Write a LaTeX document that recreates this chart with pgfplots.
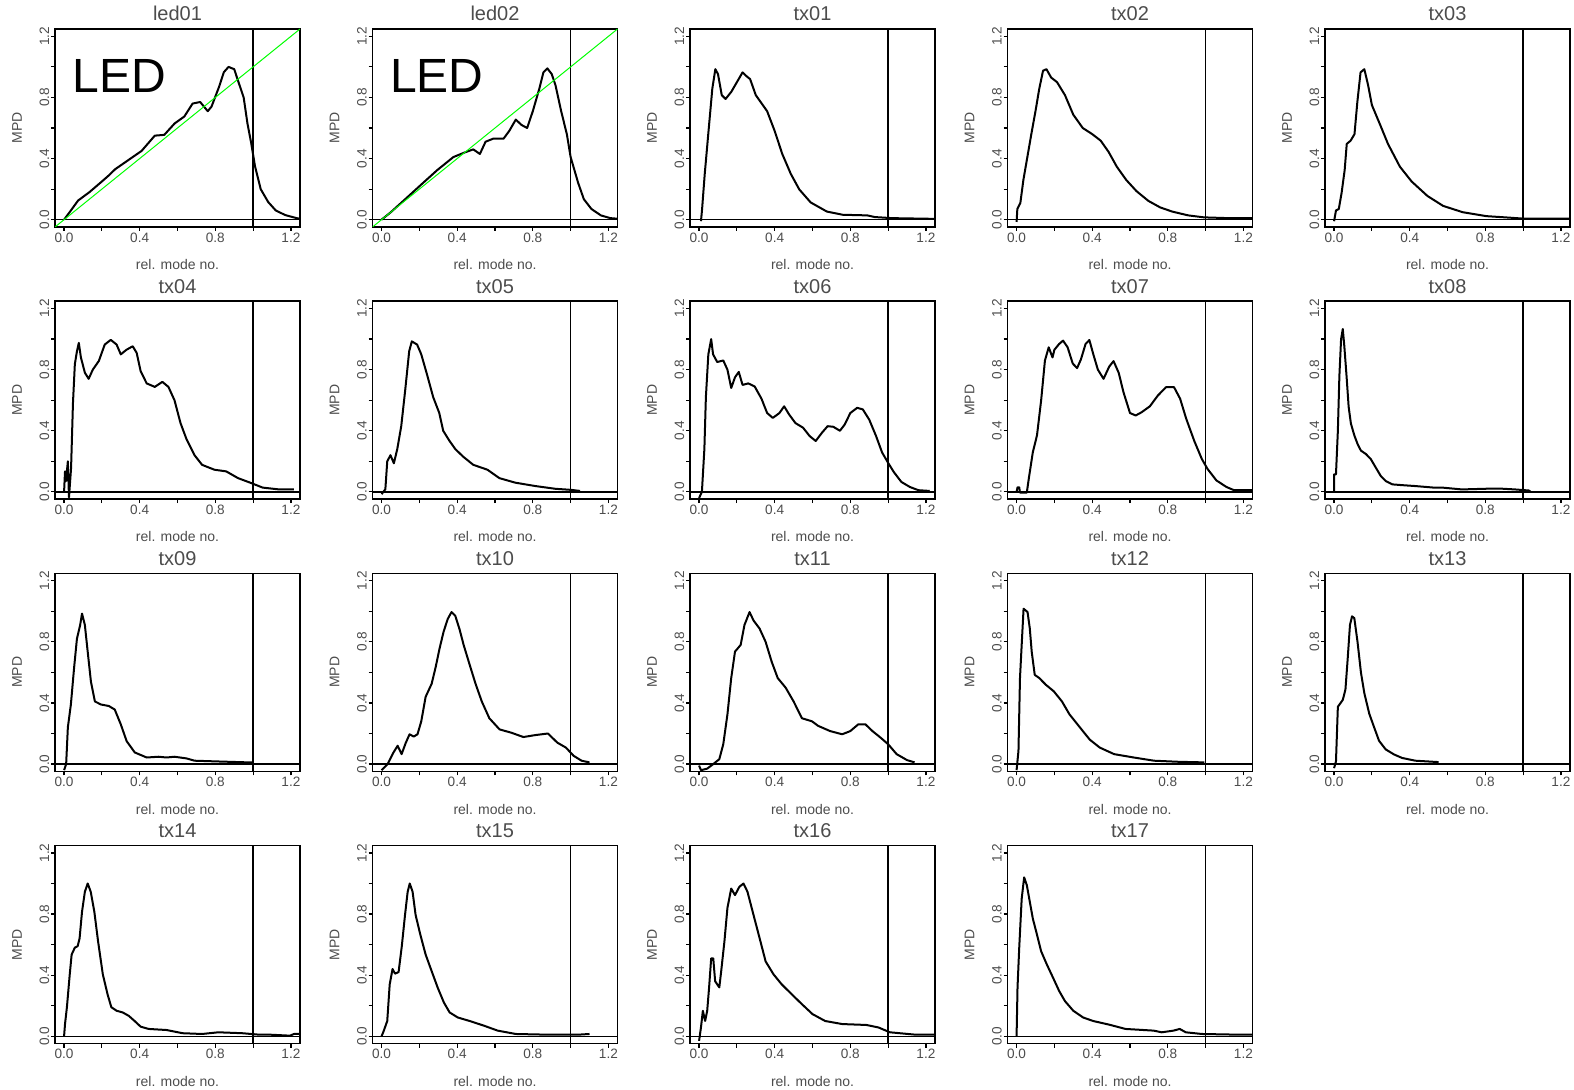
\documentclass[border=0pt]{standalone}
\usepackage{fontspec}
\setmainfont{Liberation Sans}
\usepackage{pgfplots}
\pgfplotsset{compat=1.18}
\definecolor{txt}{gray}{0.3}
\pgfplotsset{panel/.style={
 scale only axis, width=122.5pt, height=99pt,
 xmin=-0.048, xmax=1.248, ymin=-0.048, ymax=1.248,
 xtick={0,0.2,0.4,0.6,0.8,1.0,1.2}, xticklabels={0.0,,0.4,,0.8,,1.2},
 ytick={0,0.2,0.4,0.6,0.8,1.0,1.2}, yticklabels={0.0,,0.4,,0.8,,1.2},
 tick pos=left, tick align=outside, major tick length=2pt,
 tick style={black, line width=0.6pt},
 axis line style={line width=0.75pt},
 ticklabel style={font=\fontsize{6.8}{7}\selectfont, text=txt},
 yticklabel style={rotate=90, anchor=south, inner sep=0.7pt},
 xticklabel style={anchor=north, inner sep=0.7pt},
 xlabel={rel. mode no.}, ylabel={MPD},
 label style={font=\fontsize{7}{8}\selectfont, text=txt},
 xlabel style={at={(axis description cs:0.5,-0.19)}, anchor=center},
 ylabel style={at={(axis description cs:-0.155,0.5)}, anchor=center},
 every axis title/.style={font=\fontsize{10}{11}\selectfont, text=txt, at={(axis description cs:0.5,1)}, anchor=base, yshift=4pt},
}}
\newcommand{\panel}[5]{%
\begin{axis}[panel, at={(#1,#2)}, title={#3}]
\addplot[black, line width=0.75pt] coordinates {(-0.1,0)(1.3,0)};
\addplot[black, line width=0.75pt] coordinates {(1,-0.1)(1,1.3)};
\addplot[black, line width=1pt, line join=round] coordinates {#4};
#5
\end{axis}}
\newcommand{\led}{%
\addplot[green, line width=0.5pt] coordinates {(-0.048,-0.048)(1.248,1.248)};
\node[anchor=west, inner sep=0pt, font=\fontsize{24}{24}\selectfont] at (rel axis cs:0.07,0.763) {LED};}
\begin{document}
\begin{tikzpicture}
\useasboundingbox (0,0) rectangle (787pt,544.5pt);
% row 1
\panel{27.5pt}{431pt}{led01}{(0,0)(0.03,0.05)(0.074,0.125)(0.134,0.18)(0.2,0.25)(0.237,0.29)(0.27,0.33)(0.34,0.39)(0.41,0.45)(0.48,0.55)(0.53,0.555)(0.585,0.63)(0.636,0.675)(0.68,0.76)(0.72,0.77)(0.76,0.71)(0.78,0.74)(0.82,0.87)(0.845,0.965)(0.87,1.0)(0.90,0.985)(0.92,0.91)(0.95,0.80)(0.97,0.63)(0.99,0.50)(1.01,0.35)(1.04,0.20)(1.08,0.115)(1.12,0.06)(1.17,0.03)(1.23,0.01)(1.25,0.005)}{\led}
\panel{186.25pt}{431pt}{led02}{(0,0)(0.05,0.05)(0.125,0.134)(0.21,0.23)(0.295,0.325)(0.38,0.41)(0.44,0.44)(0.485,0.46)(0.52,0.43)(0.55,0.51)(0.59,0.53)(0.645,0.53)(0.675,0.58)(0.71,0.655)(0.74,0.62)(0.77,0.60)(0.80,0.71)(0.835,0.86)(0.856,0.964)(0.877,0.99)(0.90,0.953)(0.92,0.88)(0.95,0.71)(0.98,0.56)(1.0,0.41)(1.04,0.24)(1.07,0.134)(1.11,0.07)(1.16,0.028)(1.21,0.01)(1.26,0.005)}{\led}
\panel{345pt}{431pt}{tx01}{(0.01,-0.01)(0.016,0.07)(0.03,0.30)(0.05,0.58)(0.07,0.857)(0.086,0.985)(0.10,0.953)(0.12,0.815)(0.14,0.79)(0.17,0.836)(0.20,0.90)(0.23,0.964)(0.25,0.94)(0.27,0.92)(0.30,0.815)(0.36,0.71)(0.40,0.58)(0.44,0.43)(0.485,0.30)(0.53,0.198)(0.59,0.113)(0.676,0.053)(0.76,0.032)(0.89,0.028)(0.93,0.017)(1.02,0.01)(1.26,0.005)}{}
\panel{503.75pt}{431pt}{tx02}{(0,-0.015)(0.004,0.07)(0.02,0.11)(0.036,0.26)(0.057,0.41)(0.078,0.56)(0.1,0.71)(0.12,0.857)(0.14,0.975)(0.158,0.985)(0.183,0.93)(0.214,0.90)(0.256,0.815)(0.30,0.687)(0.35,0.60)(0.40,0.56)(0.445,0.517)(0.487,0.443)(0.53,0.347)(0.58,0.26)(0.634,0.187)(0.697,0.123)(0.76,0.08)(0.823,0.053)(0.908,0.028)(0.992,0.015)(1.12,0.01)(1.26,0.01)}{}
\panel{662.5pt}{431pt}{tx03}{(0,-0.01)(0.01,0.06)(0.025,0.07)(0.04,0.177)(0.056,0.325)(0.067,0.496)(0.0875,0.517)(0.108,0.56)(0.123,0.77)(0.14,0.964)(0.16,0.985)(0.18,0.88)(0.20,0.75)(0.244,0.62)(0.285,0.496)(0.348,0.347)(0.41,0.25)(0.494,0.155)(0.577,0.09)(0.68,0.049)(0.806,0.023)(0.93,0.013)(1.01,0.006)(1.26,0.006)}{}
% row 2
\panel{27.5pt}{294.9pt}{tx04}{(0.0,0)(0.005,0.134)(0.01,0.07)(0.02,0.2)(0.026,-0.036)(0.037,0.155)(0.047,0.58)(0.057,0.836)(0.068,0.92)(0.078,0.975)(0.089,0.88)(0.11,0.78)(0.13,0.74)(0.152,0.80)(0.184,0.857)(0.215,0.964)(0.247,0.995)(0.278,0.964)(0.30,0.90)(0.33,0.93)(0.363,0.953)(0.384,0.91)(0.405,0.79)(0.437,0.71)(0.48,0.687)(0.52,0.72)(0.552,0.687)(0.584,0.60)(0.616,0.45)(0.647,0.347)(0.69,0.24)(0.73,0.177)(0.795,0.145)(0.858,0.134)(0.92,0.09)(0.985,0.06)(1.05,0.028)(1.13,0.017)(1.216,0.017)}{}
\panel{186.25pt}{294.9pt}{tx05}{(0,-0.015)(0.02,0.017)(0.03,0.2)(0.047,0.24)(0.065,0.187)(0.083,0.28)(0.104,0.43)(0.125,0.666)(0.146,0.92)(0.16,0.985)(0.188,0.964)(0.21,0.90)(0.24,0.77)(0.273,0.62)(0.305,0.517)(0.326,0.40)(0.358,0.336)(0.39,0.28)(0.432,0.23)(0.485,0.177)(0.56,0.145)(0.623,0.09)(0.708,0.06)(0.814,0.038)(0.92,0.02)(1.004,0.013)(1.05,0.006)}{}
\panel{345pt}{294.9pt}{tx06}{(0,-0.04)(0.015,0)(0.028,0.28)(0.036,0.62)(0.049,0.90)(0.064,1.0)(0.074,0.90)(0.096,0.85)(0.128,0.86)(0.15,0.80)(0.17,0.68)(0.19,0.75)(0.21,0.785)(0.23,0.70)(0.26,0.71)(0.294,0.69)(0.33,0.61)(0.36,0.516)(0.39,0.484)(0.425,0.516)(0.45,0.56)(0.477,0.505)(0.51,0.45)(0.55,0.42)(0.585,0.365)(0.617,0.333)(0.65,0.387)(0.68,0.43)(0.71,0.426)(0.745,0.40)(0.77,0.44)(0.80,0.516)(0.836,0.55)(0.866,0.54)(0.9,0.473)(0.936,0.366)(0.968,0.258)(1.0,0.19)(1.03,0.13)(1.07,0.065)(1.115,0.032)(1.16,0.011)(1.22,0.006)}{}
\panel{503.75pt}{294.9pt}{tx07}{(0,0)(0.005,0.03)(0.014,0.03)(0.018,-0.005)(0.054,-0.005)(0.065,0.09)(0.086,0.26)(0.108,0.37)(0.13,0.60)(0.15,0.86)(0.17,0.946)(0.19,0.88)(0.20,0.93)(0.225,0.968)(0.246,0.99)(0.27,0.946)(0.297,0.84)(0.32,0.81)(0.34,0.866)(0.365,0.968)(0.385,0.994)(0.406,0.90)(0.43,0.80)(0.46,0.74)(0.49,0.82)(0.513,0.856)(0.54,0.78)(0.566,0.65)(0.6,0.516)(0.63,0.5)(0.66,0.52)(0.705,0.56)(0.747,0.63)(0.79,0.685)(0.833,0.685)(0.865,0.61)(0.897,0.48)(0.94,0.333)(0.98,0.215)(1.01,0.15)(1.057,0.075)(1.11,0.032)(1.15,0.011)(1.26,0.011)}{}
\panel{662.5pt}{294.9pt}{tx08}{(0,0)(0.0,0.115)(0.01,0.115)(0.02,0.40)(0.028,0.757)(0.037,1.0)(0.046,1.066)(0.054,0.956)(0.066,0.757)(0.077,0.557)(0.089,0.447)(0.107,0.37)(0.124,0.314)(0.142,0.27)(0.168,0.248)(0.194,0.215)(0.22,0.16)(0.247,0.104)(0.273,0.071)(0.308,0.049)(0.36,0.044)(0.43,0.038)(0.536,0.027)(0.58,0.027)(0.676,0.016)(0.85,0.022)(0.87,0.022)(0.956,0.016)(1.03,0.009)(1.04,0.0)}{}
% row 3
\panel{27.5pt}{158.8pt}{tx09}{(0,-0.04)(0.011,0)(0.02,0.24)(0.036,0.39)(0.053,0.63)(0.068,0.82)(0.085,0.91)(0.095,0.985)(0.11,0.91)(0.125,0.735)(0.142,0.54)(0.163,0.41)(0.195,0.39)(0.237,0.38)(0.268,0.357)(0.30,0.26)(0.331,0.15)(0.374,0.076)(0.437,0.043)(0.5,0.048)(0.542,0.043)(0.584,0.048)(0.648,0.037)(0.69,0.022)(0.816,0.017)(0.975,0.011)(1.0,0.011)}{}
\panel{186.25pt}{158.8pt}{tx10}{(0,-0.04)(0.032,0)(0.063,0.076)(0.085,0.12)(0.106,0.065)(0.127,0.136)(0.148,0.195)(0.17,0.18)(0.19,0.195)(0.21,0.28)(0.233,0.44)(0.265,0.526)(0.286,0.634)(0.307,0.758)(0.328,0.866)(0.35,0.95)(0.37,0.995)(0.39,0.97)(0.413,0.88)(0.434,0.78)(0.466,0.65)(0.497,0.526)(0.53,0.41)(0.57,0.30)(0.624,0.227)(0.687,0.205)(0.75,0.177)(0.815,0.19)(0.88,0.20)(0.93,0.14)(0.975,0.108)(1.016,0.054)(1.058,0.022)(1.1,0.011)}{}
\panel{345pt}{158.8pt}{tx11}{(0,-0.01)(0.01,-0.04)(0.043,-0.03)(0.075,0)(0.107,0.032)(0.128,0.13)(0.15,0.325)(0.17,0.563)(0.19,0.736)(0.22,0.78)(0.24,0.91)(0.267,0.995)(0.288,0.94)(0.32,0.887)(0.352,0.80)(0.384,0.67)(0.416,0.563)(0.458,0.50)(0.50,0.41)(0.544,0.30)(0.597,0.28)(0.63,0.25)(0.693,0.216)(0.757,0.195)(0.80,0.216)(0.842,0.26)(0.88,0.26)(0.917,0.216)(0.96,0.173)(1.0,0.13)(1.045,0.065)(1.1,0.026)(1.14,0.011)}{}
\panel{503.75pt}{158.8pt}{tx12}{(0,-0.04)(0.01,0.087)(0.018,0.563)(0.027,0.78)(0.037,1.017)(0.058,0.995)(0.07,0.887)(0.08,0.736)(0.096,0.584)(0.12,0.563)(0.154,0.52)(0.197,0.476)(0.24,0.41)(0.28,0.325)(0.335,0.24)(0.387,0.16)(0.44,0.108)(0.516,0.065)(0.62,0.043)(0.727,0.022)(0.855,0.015)(0.993,0.011)}{}
\panel{662.5pt}{158.8pt}{tx13}{(0,-0.027)(0.01,0.018)(0.02,0.375)(0.046,0.42)(0.06,0.487)(0.072,0.69)(0.084,0.91)(0.095,0.967)(0.107,0.955)(0.124,0.80)(0.142,0.60)(0.16,0.464)(0.186,0.33)(0.212,0.24)(0.238,0.152)(0.273,0.096)(0.317,0.063)(0.36,0.04)(0.43,0.022)(0.553,0.013)}{}
% row 4
\panel{27.5pt}{22.7pt}{tx14}{(0,0)(0.005,0.08)(0.015,0.19)(0.03,0.405)(0.04,0.535)(0.057,0.58)(0.072,0.59)(0.082,0.64)(0.095,0.816)(0.11,0.946)(0.125,1.0)(0.141,0.946)(0.16,0.816)(0.18,0.62)(0.205,0.405)(0.23,0.275)(0.25,0.19)(0.278,0.167)(0.31,0.156)(0.342,0.134)(0.373,0.10)(0.405,0.063)(0.447,0.048)(0.542,0.041)(0.627,0.02)(0.73,0.015)(0.816,0.026)(0.943,0.02)(1.027,0.011)(1.08,0.011)(1.195,0.004)(1.216,0.015)(1.25,0.015)}{}
\panel{186.25pt}{22.7pt}{tx15}{(0,0)(0.012,0.037)(0.03,0.10)(0.043,0.34)(0.058,0.44)(0.071,0.41)(0.09,0.42)(0.107,0.59)(0.124,0.794)(0.138,0.946)(0.149,1.0)(0.164,0.946)(0.18,0.794)(0.205,0.665)(0.233,0.535)(0.265,0.426)(0.297,0.318)(0.33,0.22)(0.36,0.156)(0.403,0.123)(0.466,0.10)(0.54,0.07)(0.614,0.037)(0.71,0.015)(0.857,0.011)(1.047,0.011)(1.1,0.015)}{}
\panel{345pt}{22.7pt}{tx16}{(0,-0.03)(0.01,0.058)(0.02,0.167)(0.032,0.1)(0.043,0.167)(0.053,0.32)(0.064,0.51)(0.075,0.51)(0.085,0.36)(0.107,0.32)(0.117,0.426)(0.134,0.62)(0.15,0.84)(0.17,0.967)(0.19,0.924)(0.213,0.978)(0.235,1.0)(0.256,0.946)(0.288,0.794)(0.32,0.643)(0.352,0.49)(0.394,0.405)(0.437,0.34)(0.49,0.275)(0.544,0.21)(0.6,0.145)(0.667,0.10)(0.757,0.08)(0.885,0.074)(0.948,0.058)(1.01,0.026)(1.14,0.011)(1.26,0.011)}{}
\panel{503.75pt}{22.7pt}{tx17}{(0,0)(0.005,0.32)(0.014,0.58)(0.027,0.90)(0.04,1.04)(0.054,0.99)(0.07,0.88)(0.086,0.77)(0.108,0.665)(0.13,0.556)(0.16,0.47)(0.193,0.383)(0.225,0.297)(0.256,0.23)(0.3,0.167)(0.352,0.123)(0.405,0.10)(0.49,0.076)(0.576,0.048)(0.725,0.037)(0.768,0.026)(0.83,0.037)(0.863,0.048)(0.895,0.026)(0.98,0.015)(1.15,0.011)(1.25,0.011)}{}
\end{tikzpicture}
\end{document}
